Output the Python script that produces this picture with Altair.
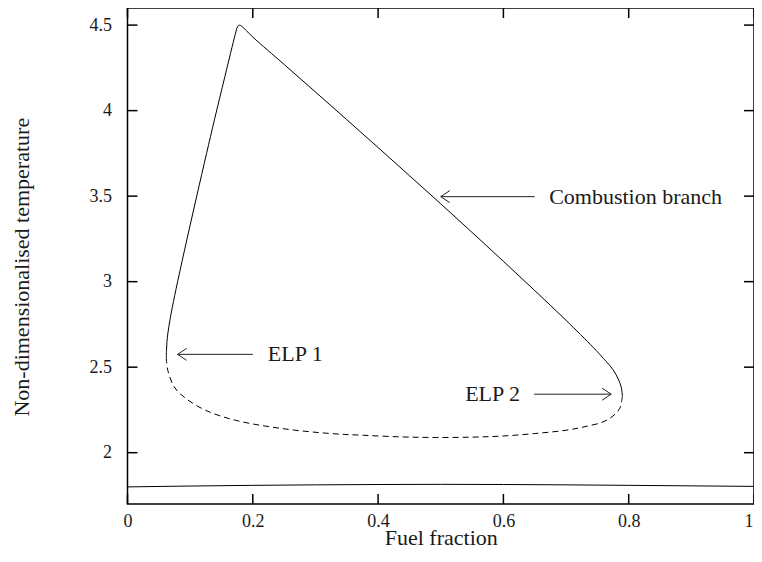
import altair as alt
import pandas as pd

# ---------------- data ----------------
x_ticks = [0, 0.2, 0.4, 0.6, 0.8, 1.0]
y_ticks = [2, 2.5, 3, 3.5, 4, 4.5]

# solid upper (combustion) branch: ELP 1 -> peak -> ELP 2
upper_x = [0.0620, 0.0622, 0.0630, 0.0645, 0.0677, 0.0715, 0.0800, 0.0950, 0.1105,
           0.1262, 0.1390, 0.1555, 0.1720, 0.1755, 0.1785, 0.1820, 0.2000, 0.2500,
           0.3000, 0.3500, 0.4000, 0.4500, 0.5000, 0.5500, 0.6000, 0.6500, 0.7000,
           0.7435, 0.7600, 0.7750, 0.7840, 0.7880, 0.7900]
upper_y = [2.550, 2.600, 2.650, 2.700, 2.774, 2.850, 3.000, 3.250, 3.500,
           3.750, 3.950, 4.200, 4.446, 4.490, 4.500, 4.494, 4.430, 4.270,
           4.109, 3.947, 3.784, 3.620, 3.455, 3.288, 3.119, 2.948, 2.774,
           2.615, 2.550, 2.485, 2.425, 2.385, 2.330]

# dashed lower branch: ELP 2 -> ELP 1
lower_x = [0.7900, 0.7880, 0.7855, 0.7750, 0.7590, 0.7300, 0.7015, 0.6500, 0.5970,
           0.5500, 0.4920, 0.4400, 0.3760, 0.3240, 0.2450, 0.1718, 0.1246, 0.0931,
           0.0747, 0.0643, 0.0620]
lower_y = [2.330, 2.290, 2.258, 2.215, 2.180, 2.152, 2.132, 2.112, 2.097,
           2.091, 2.089, 2.092, 2.102, 2.112, 2.142, 2.190, 2.248, 2.317,
           2.384, 2.482, 2.550]

# bottom (extinction) branch
cold_x = [0.0, 0.1, 0.2, 0.3, 0.4, 0.5, 0.6, 0.7, 0.8, 0.9, 1.0]
cold_y = [1.800, 1.805, 1.809, 1.812, 1.814, 1.815, 1.814, 1.812, 1.809, 1.806, 1.803]

# annotations
ann_labels = ["Combustion branch", "ELP 1", "ELP 2"]
ann_x = [0.673, 0.224, 0.539]
ann_y = [3.497, 2.575, 2.342]
arrow_from = [0.650, 0.200, 0.649]
arrow_to = [0.500, 0.080, 0.772]
arrow_y = [3.497, 2.575, 2.342]

# ---------------- chart ----------------
W, H = 626.5, 496
FONT = "Liberation Serif"
TXT = "#1a1a1a"

xscale = alt.Scale(domain=[0, 1], nice=False, zero=False)
yscale = alt.Scale(domain=[1.7, 4.6], nice=False, zero=False)

xaxis = alt.Axis(values=x_ticks, format="~g", title="Fuel fraction", grid=False,
                 domain=False, ticks=False, tickSize=0, labelPadding=8,
                 labelAlign={"condition": {"test": "datum.value >= 1", "value": "right"},
                             "value": "center"},
                 labelOffset={"condition": {"test": "datum.value >= 1", "value": -1},
                              "value": 0},
                 labelFont=FONT, labelFontSize=18, labelColor=TXT,
                 titleFont=FONT, titleFontSize=22, titleFontWeight="normal",
                 titleColor=TXT, titleBaseline="alphabetic", titleY=40)
yaxis = alt.Axis(values=y_ticks, format="~g", title="Non-dimensionalised temperature",
                 grid=False, domain=False, ticks=False, tickSize=0, labelPadding=16,
                 labelFont=FONT, labelFontSize=18, labelColor=TXT,
                 titleFont=FONT, titleFontSize=22, titleFontWeight="normal",
                 titleColor=TXT, titleBaseline="alphabetic", titleAngle=270,
                 titleX=-99.5, titleY=258.7, titleAlign="center")


def X(field="x"):
    return alt.X(field, type="quantitative", scale=xscale, axis=xaxis)


def Y(field="y"):
    return alt.Y(field, type="quantitative", scale=yscale, axis=yaxis)


upper = pd.DataFrame({"x": upper_x, "y": upper_y, "i": range(len(upper_x))})
lower = pd.DataFrame({"x": lower_x, "y": lower_y, "i": range(len(lower_x))})
cold = pd.DataFrame({"x": cold_x, "y": cold_y})
ann = pd.DataFrame({"x": ann_x, "y": ann_y, "label": ann_labels})
arrows = pd.DataFrame({"x": arrow_from, "x2": arrow_to, "y": arrow_y,
                       "shape": ["M 0 0 L 1.5 -1 M 0 0 L 1.5 1",
                                 "M 0 0 L 1.5 -1 M 0 0 L 1.5 1",
                                 "M 0 0 L -1.5 -1 M 0 0 L -1.5 1"]})
xt = pd.DataFrame({"x": x_ticks})
yt = pd.DataFrame({"y": y_ticks})

upper_line = alt.Chart(upper).mark_line(color="black", strokeWidth=1,
                                        interpolate="catmull-rom").encode(
    x=X(), y=Y(), order="i:Q")
lower_line = alt.Chart(lower).mark_line(color="black", strokeWidth=1, strokeDash=[6, 4],
                                        interpolate="catmull-rom").encode(
    x=X(), y=Y(), order="i:Q")
cold_line = alt.Chart(cold).mark_line(color="black", strokeWidth=1,
                                      interpolate="monotone").encode(x=X(), y=Y())

shafts = alt.Chart(arrows).mark_rule(color="#222", strokeWidth=1).encode(
    x=X(), x2=alt.X2("x2"), y=Y())
heads = alt.Chart(arrows).mark_point(filled=False, color="#222", strokeWidth=1,
                                     size=144, opacity=1).encode(
    x=X("x2"), y=Y(), shape=alt.Shape("shape:N", scale=None, legend=None))
texts = alt.Chart(ann).mark_text(align="left", baseline="middle", font=FONT,
                                 fontSize=22, color=TXT).encode(
    x=X(), y=Y(), text="label:N")

tick_style = dict(color="black", strokeWidth=1.5)
left_ticks = alt.Chart(yt).mark_rule(**tick_style).encode(
    y=Y(), x=alt.value(0), x2=alt.value(10))
right_ticks = alt.Chart(yt).mark_rule(**tick_style).encode(
    y=Y(), x=alt.value(W - 10), x2=alt.value(W))
bottom_ticks = alt.Chart(xt).mark_rule(**tick_style).encode(
    x=X(), y=alt.value(H), y2=alt.value(H - 10))
top_ticks = alt.Chart(xt).mark_rule(**tick_style).encode(
    x=X(), y=alt.value(0), y2=alt.value(10))

chart = alt.layer(
    cold_line, upper_line, lower_line, shafts, heads, texts,
    left_ticks, right_ticks, bottom_ticks, top_ticks
).properties(
    width=W, height=H,
    autosize=alt.AutoSizeParams(type="none"),
    padding={"left": 119.5, "top": 0, "right": 0, "bottom": 45},
    background="white",
).configure_view(
    stroke="black", strokeWidth=1.5
)

chart.save("out.html", embed_options={"renderer": "svg", "actions": False})
